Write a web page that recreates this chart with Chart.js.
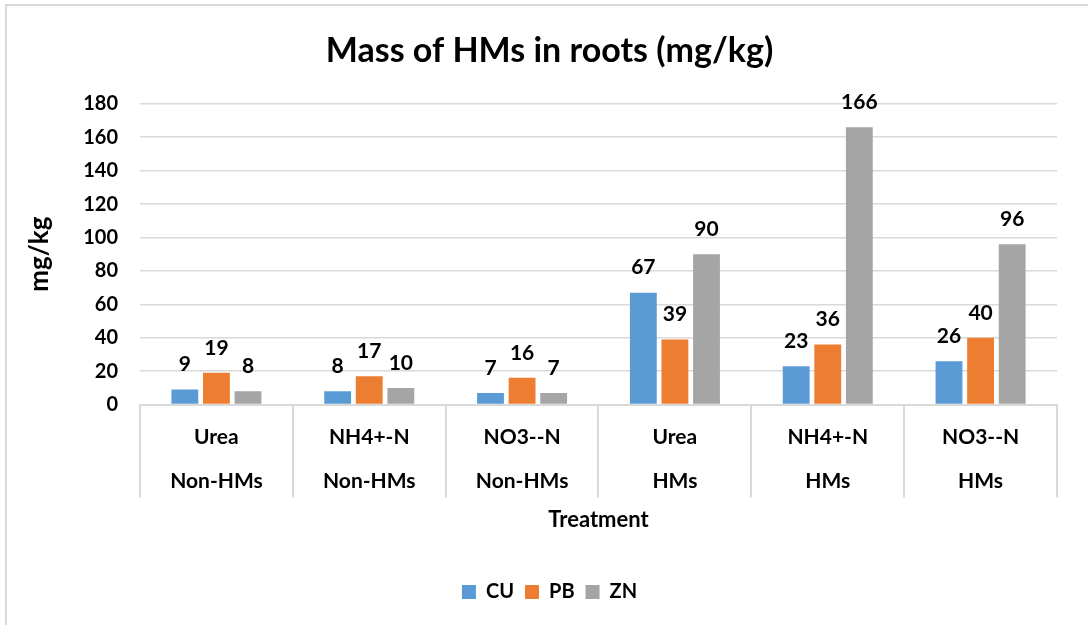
<!DOCTYPE html>
<html>
<head>
<meta charset="utf-8">
<script src="https://cdn.jsdelivr.net/npm/chart.js@4"></script>
<style>
body{margin:0;background:#fff}
#wrap{position:relative;width:1088px;height:625px}
#frame{position:absolute;left:5px;top:4px;width:1100px;height:640px;border-top:2px solid #d9d9d9;border-left:2px solid #d9d9d9;pointer-events:none}
</style>
</head>
<body>
<div id="wrap">
<canvas id="myChart" width="1088" height="625"></canvas>
<div id="frame"></div>
</div>
<script>
// treatment labels (two rows under the axis)
const fertilizers=['Urea','NH4+-N','NO3--N','Urea','NH4+-N','NO3--N']
const groups=['Non-HMs','Non-HMs','Non-HMs','HMs','HMs','HMs']
const cuValues=[9,8,7,67,23,26]
const pbValues=[19,17,16,39,36,40]
const znValues=[8,10,7,90,166,96]

const labels=fertilizers.map((f,i)=>[f,groups[i]])
const font='Lato, "Open Sans", sans-serif'

// values written above each bar
const barValues={
  id:'barValues',
  afterDatasetsDraw(chart){
    const ctx=chart.ctx
    ctx.save()
    ctx.font='bold 21px '+font
    ctx.fillStyle='#000'
    ctx.textAlign='center'
    ctx.textBaseline='middle'
    chart.data.datasets.forEach((ds,i)=>{
      chart.getDatasetMeta(i).data.forEach((bar,j)=>{
        ctx.fillText(ds.data[j],bar.x,bar.y-25)
      })
    })
    ctx.restore()
  }
}

const data={
  labels:labels,
  datasets:[
    {label:'CU',data:cuValues,backgroundColor:'#5B9BD5'},
    {label:'PB',data:pbValues,backgroundColor:'#ED7D31'},
    {label:'ZN',data:znValues,backgroundColor:'#A5A5A5'}
  ]
}

const config={
  type:'bar',
  data:data,
  options:{
    responsive:false,
    animation:false,
    categoryPercentage:0.62,
    barPercentage:0.85,
    layout:{padding:{left:42,right:31,top:0,bottom:13}},
    plugins:{
      title:{display:true,text:'Mass of HMs in roots (mg/kg)',color:'#000',
        font:{family:font,size:34,weight:'bold'},padding:{top:31,bottom:32}},
      legend:{position:'bottom',
        labels:{color:'#000',boxWidth:14,boxHeight:14,padding:11,
          font:{family:font,size:20,weight:'bold'}}},
      tooltip:{enabled:false}
    },
    scales:{
      x:{
        grid:{offset:true,drawOnChartArea:false,tickLength:93,color:'#d9d9d9',lineWidth:2},
        border:{color:'#d9d9d9',width:2},
        ticks:{color:'#000',padding:-82,maxRotation:0,autoSkip:false,
          font:{family:font,size:21,weight:'bold',lineHeight:'44px'}},
        title:{display:true,text:'Treatment',color:'#000',
          font:{family:font,size:22,weight:'bold'},padding:{top:85,bottom:38}}
      },
      y:{
        min:0,max:180,
        grid:{color:'#d9d9d9',lineWidth:1.5,drawTicks:false},
        border:{display:false},
        ticks:{stepSize:20,color:'#000',padding:22,
          font:{family:font,size:20,weight:'bold'}},
        title:{display:true,text:'mg/kg',color:'#000',
          font:{family:font,size:26,weight:'bold'},padding:{top:-18,bottom:6}}
      }
    }
  },
  plugins:[barValues]
}

var myChart=new Chart('myChart',config)
</script>
</body>
</html>
